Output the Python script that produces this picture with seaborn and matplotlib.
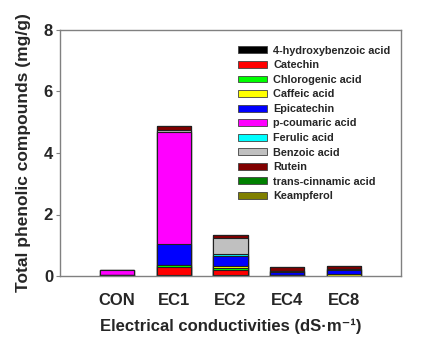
import matplotlib
matplotlib.use("Agg")
import matplotlib.pyplot as plt
import seaborn as sns
import numpy as np
import pandas as pd
from matplotlib.patches import Patch

categories = ["CON", "EC1", "EC2", "EC4", "EC8"]
compounds = ["4-hydroxybenzoic acid", "Catechin", "Chlorogenic acid", "Caffeic acid",
             "Epicatechin", "p-coumaric acid", "Ferulic acid", "Benzoic acid",
             "Rutein", "trans-cinnamic acid", "Keampferol"]
colors = ["#000000", "#FF0000", "#00FF00", "#FFFF00", "#0000FF", "#FF00FF",
          "#00FFFF", "#C0C0C0", "#800000", "#008000", "#808000"]

hydroxybenzoic = [0.04, 0.03, 0.04, 0.02, 0.01]
catechin       = [0.00, 0.27, 0.16, 0.00, 0.00]
chlorogenic    = [0.00, 0.05, 0.06, 0.00, 0.00]
caffeic        = [0.00, 0.02, 0.05, 0.00, 0.05]
epicatechin    = [0.00, 0.68, 0.35, 0.12, 0.13]
p_coumaric     = [0.16, 3.62, 0.00, 0.03, 0.03]
ferulic        = [0.00, 0.01, 0.06, 0.00, 0.00]
benzoic        = [0.00, 0.07, 0.50, 0.00, 0.00]
rutein         = [0.00, 0.13, 0.10, 0.11, 0.10]
trans_cinnamic = [0.00, 0.00, 0.00, 0.00, 0.00]
keampferol     = [0.00, 0.00, 0.00, 0.00, 0.00]

series = [hydroxybenzoic, catechin, chlorogenic, caffeic, epicatechin, p_coumaric,
          ferulic, benzoic, rutein, trans_cinnamic, keampferol]

sns.set_style("white")
plt.rcParams["font.family"] = ["Liberation Sans", "DejaVu Sans"]

fig = plt.figure(figsize=(4.28, 3.38), dpi=100)
ax = fig.add_axes([60/428, 1 - 276/338, 341/428, 246/338])

cum = np.cumsum(np.array(series), axis=0)
for i in range(len(series) - 1, -1, -1):
    df = pd.DataFrame({"cat": categories, "val": cum[i]})
    sns.barplot(data=df, x="cat", y="val", color=colors[i], saturation=1,
                width=0.6, edgecolor="#202020", linewidth=0.8, ax=ax)

ax.set_xlim(-1, 5)
ax.set_ylim(0, 8)
ax.set_yticks([0, 2, 4, 6, 8])
for s in ax.spines.values():
    s.set_color("#808080")
    s.set_linewidth(1.0)
ax.tick_params(axis="y", direction="out", length=3, width=0.8, color="#808080",
               left=True, labelsize=12, pad=2)
ax.tick_params(axis="x", length=0, labelsize=12, pad=12)
for lab in ax.get_xticklabels() + ax.get_yticklabels():
    lab.set_fontweight("bold")

ax.set_xlabel("Electrical conductivities (dS\u00b7m\u207b\u00b9)", fontsize=12,
              fontweight="bold", labelpad=8)
ax.set_ylabel("Total phenolic compounds (mg/g)", fontsize=12.5, fontweight="bold", labelpad=9)

handles = [Patch(facecolor=c, edgecolor="#404040", linewidth=0.6, label=n)
           for c, n in zip(colors, compounds)]
ax.legend(handles=handles, loc="upper left", bbox_to_anchor=(0.505, 0.958),
          frameon=False, borderpad=0, prop={"size": 7.8, "weight": "bold"},
          handlelength=2.7, handleheight=0.6, handletextpad=0.6, labelspacing=0.42)

fig.savefig("out.png", dpi=100)
